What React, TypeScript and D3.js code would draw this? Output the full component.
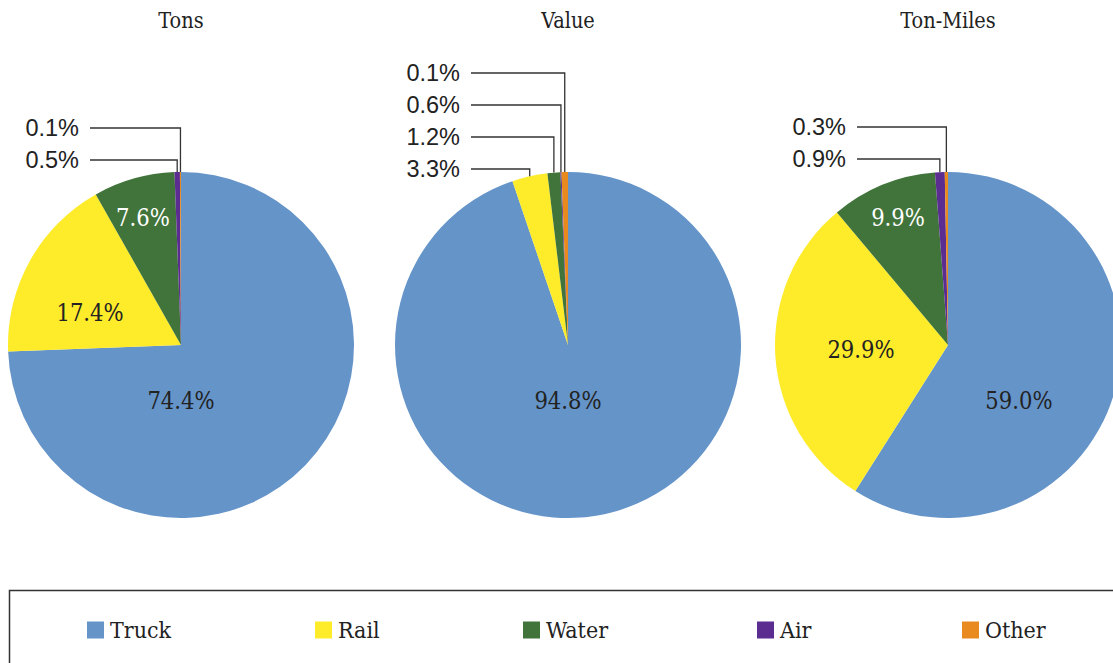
import React from 'react';
import * as d3 from 'd3';

const CATEGORIES = ['Truck', 'Rail', 'Water', 'Air', 'Other'];
const COLORS = ['#6594C9', '#FEEB2A', '#41743A', '#5B2D91', '#E98A1F'];
const TITLES = ['Tons', 'Value', 'Ton-Miles'];
const TONS = [74.4, 17.4, 7.6, 0.5, 0.1];
const VALUE = [94.8, 3.3, 1.2, 0.1, 0.6];
const TON_MILES = [59.0, 29.9, 9.9, 0.9, 0.3];
const SERIES = [TONS, VALUE, TON_MILES];

// layout
const W = 1113;
const H = 663;
const CENTERS_X = [181, 568, 948];
const CY = 345;
const R = 173;
const TITLE_Y = 20;
const INSIDE_MIN = 5;
const INNER_POS = [
  [[0, 0.324], [-0.526, -0.185], [-0.22, -0.734]],
  [[0, 0.324]],
  [[0.41, 0.324], [-0.503, 0.029], [-0.289, -0.734]],
];
const OUT_BASE_Y = [160, 169, 159];
const OUT_STEP = 32;
const OUT_LINE_X = [90, 471, 857];
const LEGEND_X = [87, 315, 523, 757, 962];
const LEGEND_Y = 630;

const SERIF = '"DejaVu Serif Condensed", "DejaVu Serif", serif';
const SANS = '"Liberation Sans", Arial, sans-serif';

function Pie({ idx }: { idx: number }) {
  const data = SERIES[idx];
  const cx = CENTERS_X[idx];
  const pie = d3.pie<number>().sort(null).value((d) => d);
  const arcs = pie(data);
  const arcGen = d3.arc<d3.PieArcDatum<number>>().innerRadius(0).outerRadius(R);
  const fmt = (v: number) => v.toFixed(1) + '%';

  const insideArcs = arcs.filter((a) => a.data >= INSIDE_MIN);
  const smalls = arcs.filter((a) => a.data < INSIDE_MIN);
  const byValue = [...smalls].sort((a, b) => b.data - a.data);
  const byAngle = [...smalls].sort(
    (a, b) => (a.startAngle + a.endAngle) - (b.startAngle + b.endAngle)
  );

  return (
    <g>
      <text x={cx} y={TITLE_Y} textAnchor="middle" dominantBaseline="central"
        fontFamily={SERIF} fontStretch="condensed" fontSize={21.5} fill="#222">{TITLES[idx]}</text>
      <g transform={`translate(${cx},${CY})`}>
        {arcs.map((a, i) => (
          <path key={i} d={arcGen(a) || ''} fill={COLORS[i]} />
        ))}
        {insideArcs.map((a, k) => {
          const p = INNER_POS[idx][k];
          const light = d3.hsl(COLORS[a.index]).l < 0.4;
          return (
            <text key={k} x={p[0] * R} y={p[1] * R} textAnchor="middle"
              dominantBaseline="central" fontFamily={SERIF} fontStretch="condensed" fontSize={23.5}
              fill={light ? '#fff' : '#222'}>{fmt(a.data)}</text>
          );
        })}
      </g>
      {byValue.map((a, slot) => {
        const target = byAngle[slot];
        const mid = (target.startAngle + target.endAngle) / 2;
        const ex = cx + R * Math.sin(mid);
        const ey = CY - R * Math.cos(mid);
        const y = OUT_BASE_Y[idx] - slot * OUT_STEP;
        const lx = OUT_LINE_X[idx];
        return (
          <g key={slot}>
            <path d={`M${lx},${y}H${ex}V${ey}`} fill="none" stroke="#333" strokeWidth={1.3} />
            <text x={lx - 11} y={y} textAnchor="end" dominantBaseline="central"
              fontFamily={SANS} fontSize={23.5} fill="#222">{fmt(a.data)}</text>
          </g>
        );
      })}
    </g>
  );
}

export default function App() {
  return (
    <svg width={W} height={H} viewBox={`0 0 ${W} ${H}`}
      style={{ position: 'absolute', left: 0, top: 0, display: 'block', background: '#fff' }}>
      <rect x={0} y={0} width={W} height={H} fill="#fff" />
      {SERIES.map((_, i) => <Pie key={i} idx={i} />)}
      <rect x={9.5} y={590.5} width={1300} height={200} fill="none" stroke="#333" strokeWidth={1.5} />
      {CATEGORIES.map((c, i) => (
        <g key={c}>
          <rect x={LEGEND_X[i]} y={LEGEND_Y - 8.5} width={17} height={17} fill={COLORS[i]} />
          <text x={LEGEND_X[i] + 23} y={LEGEND_Y} dominantBaseline="central"
            fontFamily={SERIF} fontStretch="condensed" fontSize={23} fill="#222">{c}</text>
        </g>
      ))}
    </svg>
  );
}
